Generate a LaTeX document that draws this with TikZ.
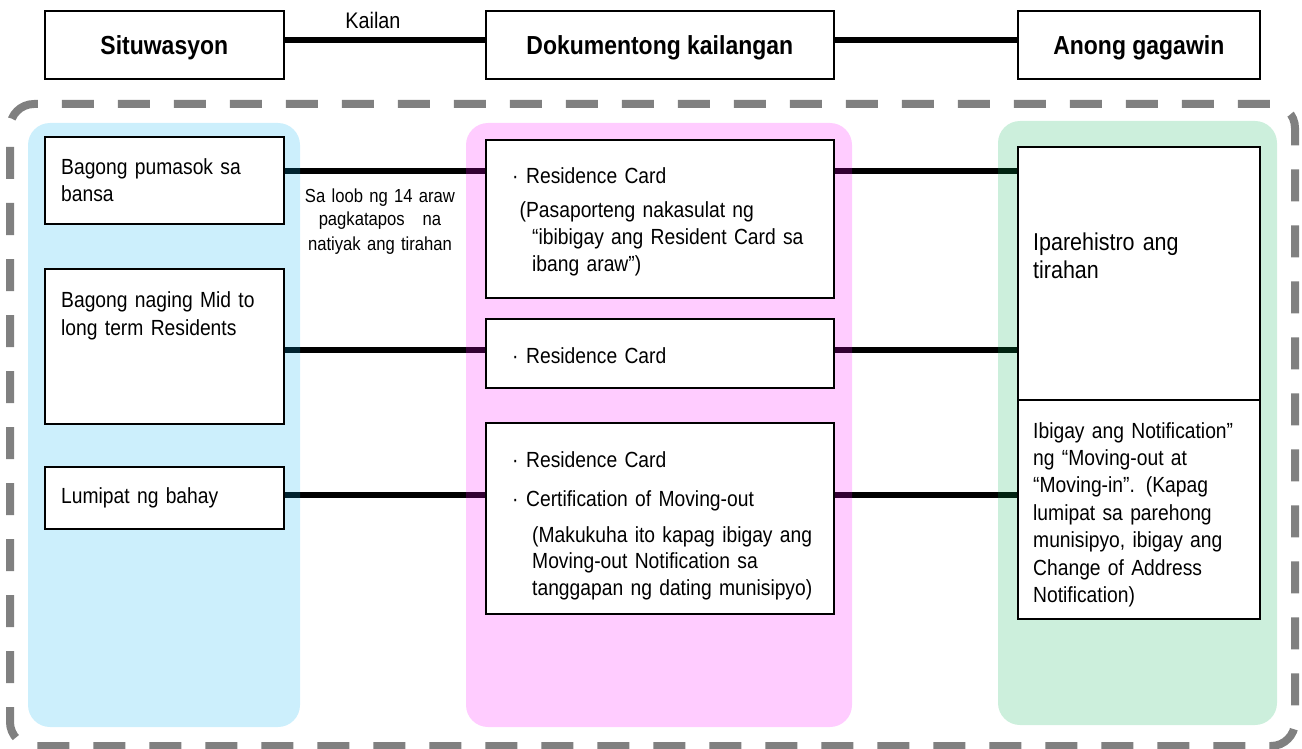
\documentclass[tikz,border=0pt]{standalone}
\usepackage{fontspec}
\setmainfont[FakeStretch=0.88]{Liberation Sans}
\pgfdeclarelayer{back}
\pgfsetlayers{back,main}

\definecolor{frameGray}{RGB}{128,128,128}
\definecolor{sitBlue}{RGB}{0,176,240}
\definecolor{docPink}{RGB}{255,0,255}
\definecolor{actGreen}{RGB}{0,176,80}

\newcommand{\mdot}{\makebox[14pt][l]{·}}

\tikzset{
    hdr/.style={draw, line width=1.6pt, fill=white, anchor=north west, inner sep=0pt,
        minimum height=68pt, text height=18.7pt, text depth=0pt,
        font=\bfseries\fontsize{26.1}{30}\selectfont},
    box/.style={draw, line width=1.6pt, fill=white, anchor=north west, inner sep=0pt},
    txt/.style={anchor=base west, inner sep=0pt, align=left, text width=360pt,
        font=\fontsize{21.9}{27.5}\selectfont},
    link/.style={line width=6.5pt},
    panel/.style={fill opacity=0.2, rounded corners=22pt},
}

\begin{document}
\begin{tikzpicture}[x=1pt, y=-1pt]
    \useasboundingbox (0,0) rectangle (1302,749);

    \draw[frameGray, line width=8pt, dash pattern=on 32pt off 24pt, dash phase=37pt,
        rounded corners=24pt] (10,104) rectangle (1295,746);

    \fill[panel, fill=sitBlue] (28,123) rectangle (300,727);
    \fill[panel, fill=docPink] (466,123) rectangle (852,727);
    \fill[panel, fill=actGreen] (998,121) rectangle (1277,725);

    % header
    \node[hdr, minimum width=239pt] (hsit) at (44,10) {Situwasyon};
    \node[hdr, minimum width=348pt] (hdoc) at (485,10) {Dokumentong kailangan};
    \node[hdr, minimum width=242pt] (hact) at (1017,10) {Anong gagawin};
    \node[anchor=base, inner sep=0pt, font=\fontsize{22.5}{27}\selectfont] (kailan) at (373,29) {Kailan};

    % boxes
    \node[box, minimum width=239pt, minimum height=87pt] (sit1) at (44,136) {};
    \node[box, minimum width=239pt, minimum height=155pt] (sit2) at (44,268) {};
    \node[box, minimum width=239pt, minimum height=62pt] (sit3) at (44,466) {};
    \node[box, minimum width=348pt, minimum height=158pt] (doc1) at (485,139) {};
    \node[box, minimum width=348pt, minimum height=69pt] (doc2) at (485,318) {};
    \node[box, minimum width=348pt, minimum height=191pt] (doc3) at (485,422) {};
    \node[box, minimum width=242pt, minimum height=253pt] (act1) at (1017,146) {};
    \node[box, minimum width=242pt, minimum height=219pt] (act2) at (1017,399) {};

    % texts
    \node[txt] (sit1t) at (61,175) {Bagong pumasok sa\\[-0.5pt]bansa};
    \node[txt] (sit2t) at (61,307) {Bagong naging Mid to\\[0.5pt]long term Residents};
    \node[txt] (sit3t) at (61,503) {Lumipat ng bahay};
    \node[txt] (doc1t) at (512,183) {\mdot Residence Card\\[6.5pt]
        \hspace*{7.5pt}(Pasaporteng nakasulat ng\\
        \hspace*{20pt}“ibibigay ang Resident Card sa\\
        \hspace*{20pt}ibang araw”)};
    \node[txt] (doc2t) at (512,363) {\mdot Residence Card};
    \begin{scope}
        \clip (doc3.north west) rectangle ([yshift=15.5pt]doc3.south east);
        \node[txt] (doc3t) at (512,467) {\mdot Residence Card\\[11.5pt]
            \mdot Certification of Moving-out\\[8.5pt]
            \hspace*{20pt}(Makukuha ito kapag ibigay ang\\[-1.5pt]
            \hspace*{20pt}Moving-out Notification sa\\
            \hspace*{20pt}tanggapan ng dating munisipyo)};
    \end{scope}
    \node[txt, font=\fontsize{24.4}{27.5}\selectfont] (act1t) at (1033,251) {Iparehistro ang\\tirahan};
    \begin{scope}
        \clip (act2.north west) rectangle ([yshift=9pt]act2.south east);
        \node[txt, font=\fontsize{21.9}{27.4}\selectfont] (act2t) at (1033,438) {Ibigay ang Notification”\\
            ng “Moving-out at\\“Moving-in”. (Kapag\\lumipat sa parehong\\munisipyo, ibigay ang\\
            Change of Address\\Notification)};
    \end{scope}
    \node[anchor=base, inner sep=0pt, align=center, text width=170pt,
        font=\fontsize{18.9}{24}\selectfont] (within) at (380,202)
        {Sa loob ng 14 araw\\pagkatapos\hspace{18pt}na\\natiyak ang tirahan};

    % connectors
    \coordinate (rowh) at (0,40);
    \coordinate (row1) at (0,171);
    \coordinate (row2) at (0,350);
    \coordinate (row3) at (0,495);
    \begin{pgfonlayer}{back}
        \draw[link] (hsit.east |- rowh) -- (hdoc.west |- rowh);
        \draw[link] (hdoc.east |- rowh) -- (hact.west |- rowh);
        \draw[link] (sit1.east |- row1) -- (doc1.west |- row1);
        \draw[link] (doc1.east |- row1) -- (act1.west |- row1);
        \draw[link] (sit2.east |- row2) -- (doc2.west |- row2);
        \draw[link] (doc2.east |- row2) -- (act1.west |- row2);
        \draw[link] (sit3.east |- row3) -- (doc3.west |- row3);
        \draw[link] (doc3.east |- row3) -- (act2.west |- row3);
    \end{pgfonlayer}
\end{tikzpicture}
\end{document}
